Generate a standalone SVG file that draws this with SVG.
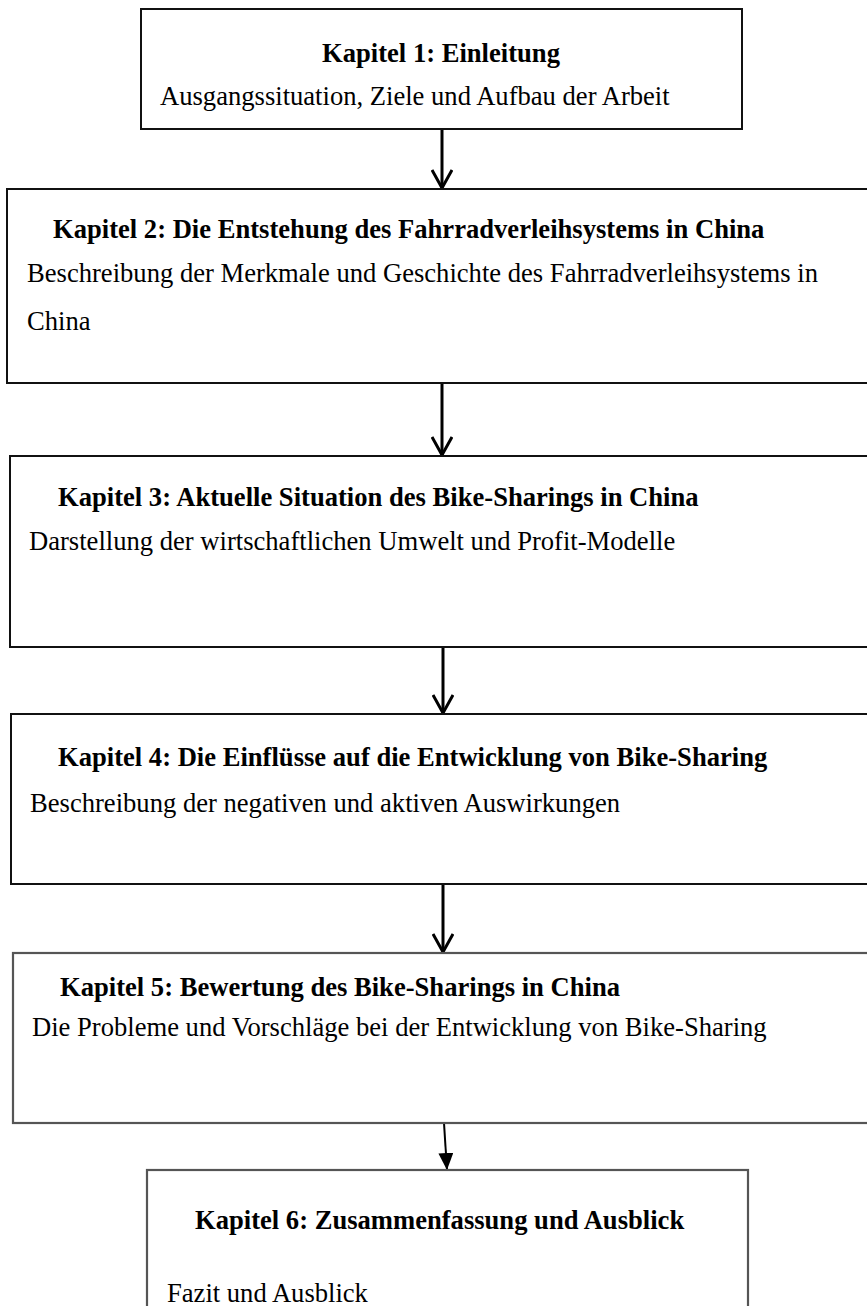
<svg xmlns="http://www.w3.org/2000/svg" width="867" height="1306" viewBox="0 0 867 1306">
<style>
.box{fill:#fff;stroke:#111;stroke-width:2}
.box.g{stroke:#555;stroke-width:2.2}
.t{font-family:"Liberation Serif","Times New Roman",serif;font-weight:bold;font-size:26.6px;fill:#000}
.b{font-family:"Liberation Serif","Times New Roman",serif;font-size:26.6px;fill:#000}
.c{fill:none;stroke:#000;stroke-width:3}
.c2{fill:none;stroke:#000;stroke-width:2}
</style>
<defs>
<marker id="open" markerUnits="userSpaceOnUse" viewBox="0 0 20 22" refX="19" refY="11" markerWidth="20" markerHeight="22" orient="auto">
<path d="M1,1 L19,11 L1,21" fill="none" stroke="#000" stroke-width="3"/>
</marker>
<marker id="solid" markerUnits="userSpaceOnUse" viewBox="0 0 17 15" refX="17" refY="7.5" markerWidth="17" markerHeight="15" orient="auto">
<path d="M0,0 L17,7.5 L0,15 z" fill="#000"/>
</marker>
</defs>
<rect width="867" height="1306" fill="#fff"/>
<g id="connectors">
<path class="c" d="M442,129 L442,188" marker-end="url(#open)"/>
<path class="c" d="M442,383 L442,455" marker-end="url(#open)"/>
<path class="c" d="M443,647 L443,713" marker-end="url(#open)"/>
<path class="c" d="M443,884 L443,952" marker-end="url(#open)"/>
<path class="c2" d="M444,1123 L447,1170" marker-end="url(#solid)"/>
</g>
<g id="kapitel1">
<rect class="box" x="141" y="9" width="601" height="120"/>
<text class="t" x="441" y="62" text-anchor="middle">Kapitel 1: Einleitung</text>
<text class="b" x="160" y="105">Ausgangssituation, Ziele und Aufbau der Arbeit</text>
</g>
<g id="kapitel2">
<rect class="box" x="7" y="189" width="880" height="194"/>
<text class="t" x="53" y="238">Kapitel 2: Die Entstehung des Fahrradverleihsystems in China</text>
<text class="b" x="27" y="282">Beschreibung der Merkmale und Geschichte des Fahrradverleihsystems in</text>
<text class="b" x="27" y="330">China</text>
</g>
<g id="kapitel3">
<rect class="box" x="10" y="456" width="880" height="191"/>
<text class="t" x="58" y="506">Kapitel 3: Aktuelle Situation des Bike-Sharings in China</text>
<text class="b" x="29" y="550">Darstellung der wirtschaftlichen Umwelt und Profit-Modelle</text>
</g>
<g id="kapitel4">
<rect class="box" x="11" y="714" width="880" height="170"/>
<text class="t" x="58" y="766">Kapitel 4: Die Einflüsse auf die Entwicklung von Bike-Sharing</text>
<text class="b" x="30" y="812">Beschreibung der negativen und aktiven Auswirkungen</text>
</g>
<g id="kapitel5">
<rect class="box g" x="13" y="953" width="880" height="170"/>
<text class="t" x="60" y="996">Kapitel 5: Bewertung des Bike-Sharings in China</text>
<text class="b" x="32" y="1036">Die Probleme und Vorschläge bei der Entwicklung von Bike-Sharing</text>
</g>
<g id="kapitel6">
<rect class="box g" x="147" y="1170" width="601" height="160"/>
<text class="t" x="195" y="1229">Kapitel 6: Zusammenfassung und Ausblick</text>
<text class="b" x="167" y="1302">Fazit und Ausblick</text>
</g>
</svg>
